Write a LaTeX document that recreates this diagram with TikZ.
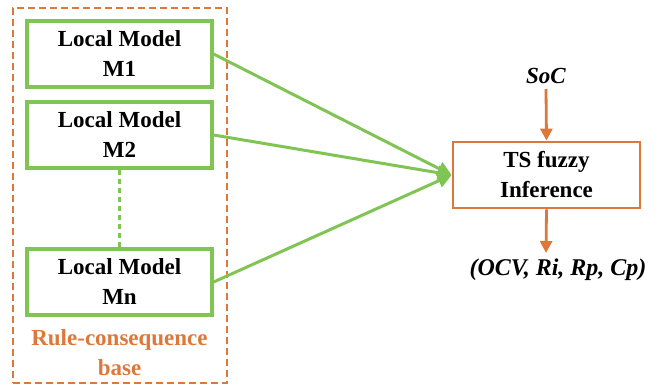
\documentclass[tikz,border=0pt]{standalone}
\usepackage{fontspec}
\setmainfont{Liberation Serif}
\usetikzlibrary{arrows.meta}
\definecolor{lgreen}{RGB}{128,196,84}
\definecolor{lorange}{RGB}{222,120,58}
\begin{document}
\begin{tikzpicture}[x=1pt,y=-1pt,
  fnt/.style={font=\fontsize{23}{30}\selectfont\bfseries},
  model/.style={fnt,draw=lgreen,line width=3.2pt,minimum width=185pt,minimum height=66pt,inner sep=0pt,align=center},
  tsbox/.style={fnt,draw=lorange,line width=2.8pt,minimum width=187pt,minimum height=66pt,inner sep=0pt,align=center},
  garrow/.style={draw=lgreen,line width=3pt,-{Triangle[length=14pt,width=14pt]}},
  oarrow/.style={draw=lorange,line width=2.8pt,-{Triangle[length=12pt,width=12pt]}},
  txt/.style={fnt,inner sep=0pt,align=center}]
\useasboundingbox (0,0) rectangle (661,385);
\node[draw=lorange,dashed,dash pattern=on 7pt off 4pt,line width=1.8pt,minimum width=214pt,minimum height=375pt,inner sep=0pt] (base) at (120,195.5) {};
\node[model] (m1) at (119.5,54) {Local Model\\M1};
\node[model] (m2) at (119.5,135) {Local Model\\M2};
\node[model] (mn) at (119.5,282) {Local Model\\Mn};
\node[txt,text=lorange] (rule) at (119.5,353) {Rule-consequence\\base};
\draw[lgreen,line width=2.4pt,dashed,dash pattern=on 5pt off 4pt] (m2.south) -- (mn.north);
\node[tsbox] (ts) at (546.5,175) {TS fuzzy\\Inference};
\node[txt,font=\fontsize{23}{30}\selectfont\bfseries\itshape] (soc) at (546,76) {SoC};
\node[txt,font=\fontsize{24}{30}\selectfont\bfseries\itshape] (out) at (558,270) {(OCV, Ri, Rp, Cp)};
\coordinate (tip) at (ts.west);
\draw[garrow] (m1.east) -- (tip);
\draw[garrow] (m2.east) -- (tip);
\draw[garrow] (mn.east) -- (tip);
\draw[oarrow] (546,89) -- (ts.north);
\draw[oarrow] (ts.south) -- (546,253);
\end{tikzpicture}
\end{document}
